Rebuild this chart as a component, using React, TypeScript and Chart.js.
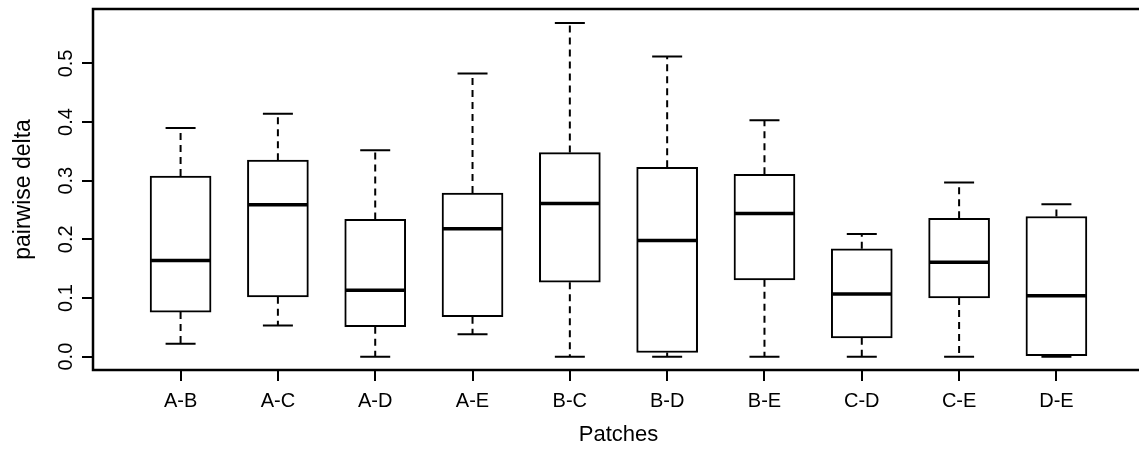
import React, { useEffect, useRef } from "react";
import { Chart, registerables } from "chart.js";

Chart.register(...registerables);

// ---- data ----
const categories = ["A-B", "A-C", "A-D", "A-E", "B-C", "B-D", "B-E", "C-D", "C-E", "D-E"];
const lowerWhisker = [0.022, 0.053, 0.0, 0.038, 0.0, 0.0, 0.0, 0.0, 0.0, 0.0];
const q1 = [0.076, 0.102, 0.051, 0.068, 0.127, 0.007, 0.131, 0.032, 0.1, 0.0];
const medians = [0.164, 0.259, 0.113, 0.218, 0.261, 0.198, 0.244, 0.107, 0.161, 0.104];
const q3 = [0.308, 0.335, 0.234, 0.279, 0.348, 0.323, 0.311, 0.184, 0.236, 0.239];
const upperWhisker = [0.39, 0.414, 0.352, 0.483, 0.569, 0.512, 0.403, 0.209, 0.297, 0.26];
const yTickValues = [0, 0.1, 0.2, 0.3, 0.4, 0.5];
const yTickLabels = ["0.0", "0.1", "0.2", "0.3", "0.4", "0.5"];
const xTitle = "Patches";
const yTitle = "pairwise delta";

const FONT = "'Liberation Sans', Arial, Helvetica, sans-serif";

const boxPlugin = {
  id: "boxParts",
  beforeDatasetsDraw(chart: any) {
    const { ctx, scales } = chart;
    const x = scales.x;
    const y = scales.y;
    ctx.save();
    ctx.strokeStyle = "#000";
    ctx.lineWidth = 2;
    categories.forEach((_, i) => {
      const px = x.getPixelForValue(i + 1);
      ctx.setLineDash([7, 5]);
      ctx.beginPath();
      ctx.moveTo(px, y.getPixelForValue(q3[i]));
      ctx.lineTo(px, y.getPixelForValue(upperWhisker[i]));
      ctx.moveTo(px, y.getPixelForValue(q1[i]));
      ctx.lineTo(px, y.getPixelForValue(lowerWhisker[i]));
      ctx.stroke();
      ctx.setLineDash([]);
      const capHalf = 15;
      ctx.beginPath();
      const yu = y.getPixelForValue(upperWhisker[i]);
      const yl = y.getPixelForValue(lowerWhisker[i]);
      ctx.moveTo(px - capHalf, yu);
      ctx.lineTo(px + capHalf, yu);
      ctx.moveTo(px - capHalf, yl);
      ctx.lineTo(px + capHalf, yl);
      ctx.stroke();
    });
    ctx.restore();
  },
  afterDatasetsDraw(chart: any) {
    const { ctx, scales, chartArea } = chart;
    const x = scales.x;
    const y = scales.y;
    const meta = chart.getDatasetMeta(0);
    ctx.save();
    ctx.strokeStyle = "#000";
    ctx.lineWidth = 3.5;
    ctx.lineCap = "butt";
    categories.forEach((_, i) => {
      const px = x.getPixelForValue(i + 1);
      const el = meta.data[i];
      const half = el ? el.width / 2 - 1 : 29;
      const py = y.getPixelForValue(medians[i]);
      ctx.beginPath();
      ctx.moveTo(px - half, py);
      ctx.lineTo(px + half, py);
      ctx.stroke();
    });
    // plot frame
    ctx.lineWidth = 2.5;
    ctx.strokeRect(chartArea.left, chartArea.top, chartArea.right - chartArea.left, chartArea.bottom - chartArea.top);
    ctx.restore();
  },
  afterDraw(chart: any) {
    const { ctx, scales } = chart;
    const y = scales.y;
    ctx.save();
    ctx.fillStyle = "#000";
    ctx.font = `20px ${FONT}`;
    ctx.textAlign = "center";
    ctx.textBaseline = "alphabetic";
    y.ticks.forEach((t: any) => {
      const py = y.getPixelForValue(t.value);
      ctx.save();
      ctx.translate(72, py);
      ctx.rotate(-Math.PI / 2);
      const idx = yTickValues.indexOf(t.value);
      ctx.fillText(idx >= 0 ? yTickLabels[idx] : String(t.value), 0, 0);
      ctx.restore();
    });
    ctx.restore();
  },
};

export default function App() {
  const canvasRef = useRef<HTMLCanvasElement | null>(null);

  useEffect(() => {
    const canvas = canvasRef.current;
    if (!canvas) return;
    const chart = new Chart(canvas, {
      type: "bar",
      data: {
        datasets: [
          {
            data: categories.map((_, i) => ({ x: i + 1, y: [q1[i], q3[i]] })) as any,
            backgroundColor: "#ffffff",
            borderColor: "#000000",
            borderWidth: 2,
            borderSkipped: false,
            barThickness: 61,
          },
        ],
      },
      options: {
        responsive: false,
        animation: false,
        events: [],
        layout: { padding: { left: 0, right: 2, top: 9, bottom: 0 } },
        plugins: {
          legend: { display: false },
          tooltip: { enabled: false },
        },
        scales: {
          x: {
            type: "linear",
            position: "bottom",
            min: 0.1,
            max: 10.9,
            offset: false,
            afterBuildTicks: (scale: any) => {
              scale.ticks = categories.map((_, i) => ({ value: i + 1 }));
            },
            afterFit: (scale: any) => {
              scale.height = 80;
            },
            grid: {
              display: true,
              offset: false,
              drawOnChartArea: false,
              drawTicks: true,
              tickLength: 11,
              color: "#000",
              lineWidth: 2,
            },
            border: { display: false },
            ticks: {
              color: "#000",
              font: { family: FONT, size: 20 },
              padding: 8,
              maxRotation: 0,
              autoSkip: false,
              callback: (value: any) => categories[Math.round(value) - 1] ?? "",
            },
            title: {
              display: true,
              text: xTitle,
              color: "#000",
              font: { family: FONT, size: 22 },
              padding: { top: 0, bottom: 2 },
            },
          },
          y: {
            type: "linear",
            position: "left",
            min: -0.0228,
            max: 0.5928,
            afterBuildTicks: (scale: any) => {
              scale.ticks = yTickValues.map((v) => ({ value: v }));
            },
            afterFit: (scale: any) => {
              scale.width = 93;
            },
            grid: {
              display: true,
              drawOnChartArea: false,
              drawTicks: true,
              tickLength: 11,
              color: "#000",
              lineWidth: 2,
            },
            border: { display: false },
            ticks: { display: false },
            title: {
              display: true,
              text: yTitle,
              color: "#000",
              font: { family: FONT, size: 23 },
              padding: { top: 10, bottom: 0 },
            },
          },
        },
      },
      plugins: [boxPlugin],
    });
    return () => chart.destroy();
  }, []);

  return (
    <div style={{ position: "fixed", left: 0, top: 0, width: 1146, height: 450, background: "#fff" }}>
      <canvas ref={canvasRef} width={1146} height={450} style={{ display: "block" }} />
    </div>
  );
}
